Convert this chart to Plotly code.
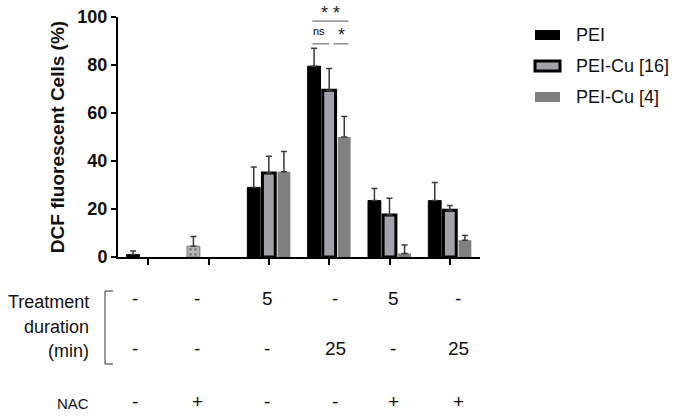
import plotly.graph_objects as go

# group order on the x axis
groups = ["g1", "g2", "g3", "g4", "g5", "g6"]

# % DCF fluorescent cells, mean and upper error
pei = [1, 4.5, 29, 79.5, 23.5, 23.5]
pei_err = [1.5, 4, 8.5, 7.5, 5, 7.5]
cu16 = [None, None, 35, 69.5, 17.5, 19.5]
cu16_err = [0, 0, 7, 9, 7, 2]
cu4 = [None, None, 35.5, 50, 1.5, 7]
cu4_err = [0, 0, 8.5, 8.5, 3.5, 2]

# condition table under the chart
dur_top = ["-", "-", "5", "-", "5", "-"]
dur_bottom = ["-", "-", "-", "25", "-", "25"]
nac = ["-", "+", "-", "-", "+", "+"]

FONT = "Arial, Liberation Sans, sans-serif"
L, R, T, B = 118, 205, 17, 159
W, H = 685, 416
PW, PH = W - L - R, H - T - B


def px_x(p):
    return (p - L) / PW


def px_y(p):
    return (H - B - p) / PH


fig = go.Figure()
xs = list(range(len(groups)))

fig.add_trace(go.Bar(
    x=xs, y=pei, name="PEI",
    marker=dict(
        color=["#000000", "#b8b8b8", "#000000", "#000000", "#000000", "#000000"],
        line=dict(color=["#000000", "#777777", "#000000", "#000000", "#000000", "#000000"], width=1),
        pattern=dict(shape=["", ".", "", "", "", ""], fgcolor="#8a8a8a", size=5, solidity=0.25),
    ),
    error_y=dict(type="data", array=pei_err, arrayminus=[0] * 6, symmetric=False,
                 color="#3a3a3a", thickness=1.5, width=3),
))
fig.add_trace(go.Bar(
    x=xs, y=cu16, name="PEI-Cu [16]",
    marker=dict(color="#a2a2aa", line=dict(color="#000000", width=3)),
    error_y=dict(type="data", array=cu16_err, arrayminus=[0] * 6, symmetric=False,
                 color="#3a3a3a", thickness=1.5, width=3),
))
fig.add_trace(go.Bar(
    x=xs, y=cu4, name="PEI-Cu [4]",
    marker=dict(color="#808080", line=dict(width=0)),
    error_y=dict(type="data", array=cu4_err, arrayminus=[0] * 6, symmetric=False,
                 color="#3a3a3a", thickness=1.5, width=3),
))

shapes = []
annotations = []

# significance brackets over the 25 min group
sig_lines = [(2.72, 3.32, 98.3), (2.72, 3.0, 88.8), (3.07, 3.32, 88.8)]
for x0, x1, yv in sig_lines:
    shapes.append(dict(type="line", xref="x", yref="y", x0=x0, x1=x1, y0=yv, y1=yv,
                       line=dict(color="#555555", width=1)))
annotations += [
    dict(x=px_x(330), y=px_y(13), xref="paper", yref="paper", text="* *", showarrow=False,
         xanchor="center", yanchor="middle",
         font=dict(family=FONT, size=18, color="#222222")),
    dict(x=2.83, y=94, xref="x", yref="y", text="ns", showarrow=False,
         xanchor="center", yanchor="middle",
         font=dict(family=FONT, size=11, color="#000000")),
    dict(x=3.2, y=92.5, xref="x", yref="y", text="*", showarrow=False,
         xanchor="center", yanchor="middle",
         font=dict(family=FONT, size=18, color="#222222")),
]

# legend drawn by hand (wide rectangles like the original)
leg_names = ["PEI", "PEI-Cu [16]", "PEI-Cu [4]"]
leg_fill = ["#000000", "#a2a2aa", "#808080"]
leg_line = [0, 3, 0]
for i, name in enumerate(leg_names):
    cy = 35 + 31 * i
    shapes.append(dict(type="rect", xref="paper", yref="paper",
                       x0=px_x(535), x1=px_x(560), y0=px_y(cy - 5), y1=px_y(cy + 5),
                       fillcolor=leg_fill[i],
                       line=dict(color="#000000", width=leg_line[i]) if leg_line[i] else dict(width=0)))
    annotations.append(dict(x=px_x(574), y=px_y(cy), xref="paper", yref="paper",
                            text=name, showarrow=False, xanchor="left", yanchor="middle",
                            font=dict(family=FONT, size=18, color="#111111")))

# condition table
col_x = [135, 197, 267, 335, 393, 458]
for i in range(len(groups)):
    for txt, yy in ((dur_top[i], 298), (dur_bottom[i], 348), (nac[i], 402)):
        annotations.append(dict(x=px_x(col_x[i]), y=px_y(yy), xref="paper", yref="paper",
                                text=txt, showarrow=False, xanchor="center", yanchor="middle",
                                font=dict(family=FONT, size=19, color="#111111")))
for txt, yy, sz in (("Treatment", 302, 18), ("duration", 327, 18), ("(min)", 351, 18), ("NAC", 403, 15)):
    annotations.append(dict(x=px_x(91), y=px_y(yy), xref="paper", yref="paper",
                            text=txt, showarrow=False, xanchor="right", yanchor="middle",
                            font=dict(family=FONT, size=sz, color="#111111")))
shapes.append(dict(type="path", xref="paper", yref="paper",
                   path=f"M {px_x(113)} {px_y(291)} L {px_x(105)} {px_y(291)} "
                        f"L {px_x(105)} {px_y(364)} L {px_x(113)} {px_y(364)}",
                   line=dict(color="#333333", width=1)))

fig.update_layout(
    width=W, height=H,
    margin=dict(l=L, r=R, t=T, b=B),
    paper_bgcolor="white", plot_bgcolor="white",
    barmode="group", bargap=0.25, bargroupgap=0.15,
    showlegend=False,
    shapes=shapes, annotations=annotations,
    font=dict(family=FONT, color="#111111"),
)
fig.update_xaxes(
    range=[-0.5, 5.5], tickvals=xs, ticktext=[""] * 6, automargin=False,
    showline=True, linecolor="#000000", linewidth=2,
    ticks="outside", ticklen=6, tickwidth=2, tickcolor="#000000",
    showgrid=False, zeroline=False,
)
fig.update_yaxes(
    range=[0, 100], tickvals=[0, 20, 40, 60, 80, 100], automargin=False,
    showline=True, linecolor="#000000", linewidth=2,
    ticks="outside", ticklen=5, tickwidth=2, tickcolor="#000000",
    tickfont=dict(family=FONT, size=18, color="#111111", weight="bold"),
    showgrid=False, zeroline=False,
    title=dict(text="<b>DCF fluorescent Cells (%)</b>", font=dict(family=FONT, size=19, color="#111111"),
               standoff=8),
)

# drop the browser's default 8px body margin so the figure fills the window
fig.write_html("out.html", config={"displayModeBar": False},
               post_script="document.body.style.margin='0';")
